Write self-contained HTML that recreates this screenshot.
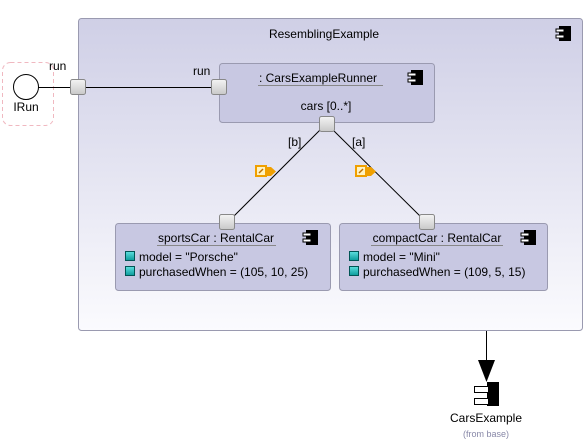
<!DOCTYPE html>
<html><head><meta charset="utf-8"><style>
html,body{margin:0;padding:0;background:#fff;}
svg{display:block;font-family:"Liberation Sans",sans-serif;}
</style></head><body>
<svg width="587" height="444" viewBox="0 0 587 444" xmlns="http://www.w3.org/2000/svg">
<defs>
<linearGradient id="og" x1="0" y1="0" x2="0" y2="1">
<stop offset="0" stop-color="#cfcfe6"/><stop offset="1" stop-color="#fbfbfe"/>
</linearGradient>
<linearGradient id="pg" x1="0" y1="0" x2="0" y2="1">
<stop offset="0" stop-color="#f4f4f4"/><stop offset="1" stop-color="#c8c8c8"/>
</linearGradient>
<linearGradient id="tg" x1="0" y1="0" x2="0" y2="1">
<stop offset="0" stop-color="#5fe0e0"/><stop offset="1" stop-color="#0a9a9a"/>
</linearGradient>
<g id="ci">
<rect x="3" y="0" width="12" height="15" fill="#000"/>
<rect x="0" y="3" width="8" height="3" fill="#fff" stroke="#000" stroke-width="1"/>
<rect x="0" y="9" width="8" height="3" fill="#fff" stroke="#000" stroke-width="1"/>
</g>
<g id="port"><rect x="0.5" y="0.5" width="15" height="15" rx="2" fill="url(#pg)" stroke="#888"/></g>
<g id="tag">
<polygon points="11,2 16,2 21,6.5 16,11 11,11" fill="#f0a000"/>
<rect x="0" y="0" width="12" height="12" fill="#f0a000"/>
<rect x="2" y="2" width="8" height="8" fill="#fff3c0"/>
<line x1="4" y1="8" x2="8" y2="4" stroke="#c07000" stroke-width="1.5"/>
</g>
</defs>

<!-- IRun -->
<rect x="2.5" y="62.5" width="51" height="63" rx="8" fill="none" stroke="#f0b8c0" stroke-dasharray="4,3"/>
<circle cx="26" cy="87" r="12.5" fill="#fff" stroke="#000"/>
<text x="26" y="111" font-size="12" text-anchor="middle">IRun</text>
<text x="49" y="70" font-size="12">run</text>

<!-- outer -->
<rect x="78.5" y="18.5" width="504" height="312" rx="3" fill="url(#og)" stroke="#9a9ab0"/>
<text x="324" y="38" font-size="12" text-anchor="middle">ResemblingExample</text>
<use href="#ci" x="556" y="26"/>

<line x1="38" y1="87.5" x2="71" y2="87.5" stroke="#000"/>
<line x1="86" y1="87.5" x2="212" y2="87.5" stroke="#000"/>

<!-- runner -->
<rect x="219.5" y="63.5" width="215" height="59" rx="3" fill="#c8c8e2" stroke="#9a9ab0"/>
<text x="318" y="82" font-size="12" text-anchor="middle">: CarsExampleRunner</text>
<line x1="258" y1="85.5" x2="383" y2="85.5" stroke="#888"/>
<use href="#ci" x="408" y="70"/>
<text x="326" y="110" font-size="12" text-anchor="middle">cars [0..*]</text>
<text x="193" y="75" font-size="12">run</text>

<!-- connectors -->
<line x1="320" y1="130" x2="233" y2="217" stroke="#000"/>
<line x1="333" y1="130" x2="421" y2="217" stroke="#000"/>
<text x="288" y="146" font-size="12">[b]</text>
<text x="352" y="146" font-size="12">[a]</text>
<use href="#tag" x="255" y="165"/>
<use href="#tag" x="355" y="165"/>

<!-- sportsCar -->
<rect x="115.5" y="223.5" width="215" height="67" rx="3" fill="#c8c8e2" stroke="#9a9ab0"/>
<text x="216" y="242" font-size="12" text-anchor="middle">sportsCar : RentalCar</text>
<line x1="157" y1="245.5" x2="276" y2="245.5" stroke="#888"/>
<use href="#ci" x="303" y="230"/>
<rect x="125.5" y="251.5" width="9" height="9" fill="url(#tg)" stroke="#055"/>
<text x="139" y="261" font-size="12">model = "Porsche"</text>
<rect x="125.5" y="266.5" width="9" height="9" fill="url(#tg)" stroke="#055"/>
<text x="139" y="276" font-size="12">purchasedWhen = (105, 10, 25)</text>

<!-- compactCar -->
<rect x="339.5" y="223.5" width="208" height="67" rx="3" fill="#c8c8e2" stroke="#9a9ab0"/>
<text x="437" y="242" font-size="12" text-anchor="middle">compactCar : RentalCar</text>
<line x1="371" y1="245.5" x2="503" y2="245.5" stroke="#888"/>
<use href="#ci" x="521" y="230"/>
<rect x="349.5" y="251.5" width="9" height="9" fill="url(#tg)" stroke="#055"/>
<text x="363" y="261" font-size="12">model = "Mini"</text>
<rect x="349.5" y="266.5" width="9" height="9" fill="url(#tg)" stroke="#055"/>
<text x="363" y="276" font-size="12">purchasedWhen = (109, 5, 15)</text>

<!-- ports -->
<use href="#port" x="70" y="79"/>
<use href="#port" x="211" y="79"/>
<use href="#port" x="319" y="116"/>
<use href="#port" x="219" y="214"/>
<use href="#port" x="419" y="214"/>

<!-- dependency to CarsExample -->
<line x1="486.5" y1="331" x2="486.5" y2="362" stroke="#000"/>
<polygon points="478,360 495,360 486.5,382" fill="#000"/>
<rect x="487" y="382" width="12" height="24" fill="#000"/>
<rect x="474.5" y="386.5" width="14" height="6" fill="#fff" stroke="#000"/>
<rect x="474.5" y="398.5" width="14" height="6" fill="#fff" stroke="#000"/>
<text x="486" y="422" font-size="12" text-anchor="middle">CarsExample</text>
<text x="486" y="437" font-size="9" fill="#8888a8" text-anchor="middle">(from base)</text>
</svg>
</body></html>
